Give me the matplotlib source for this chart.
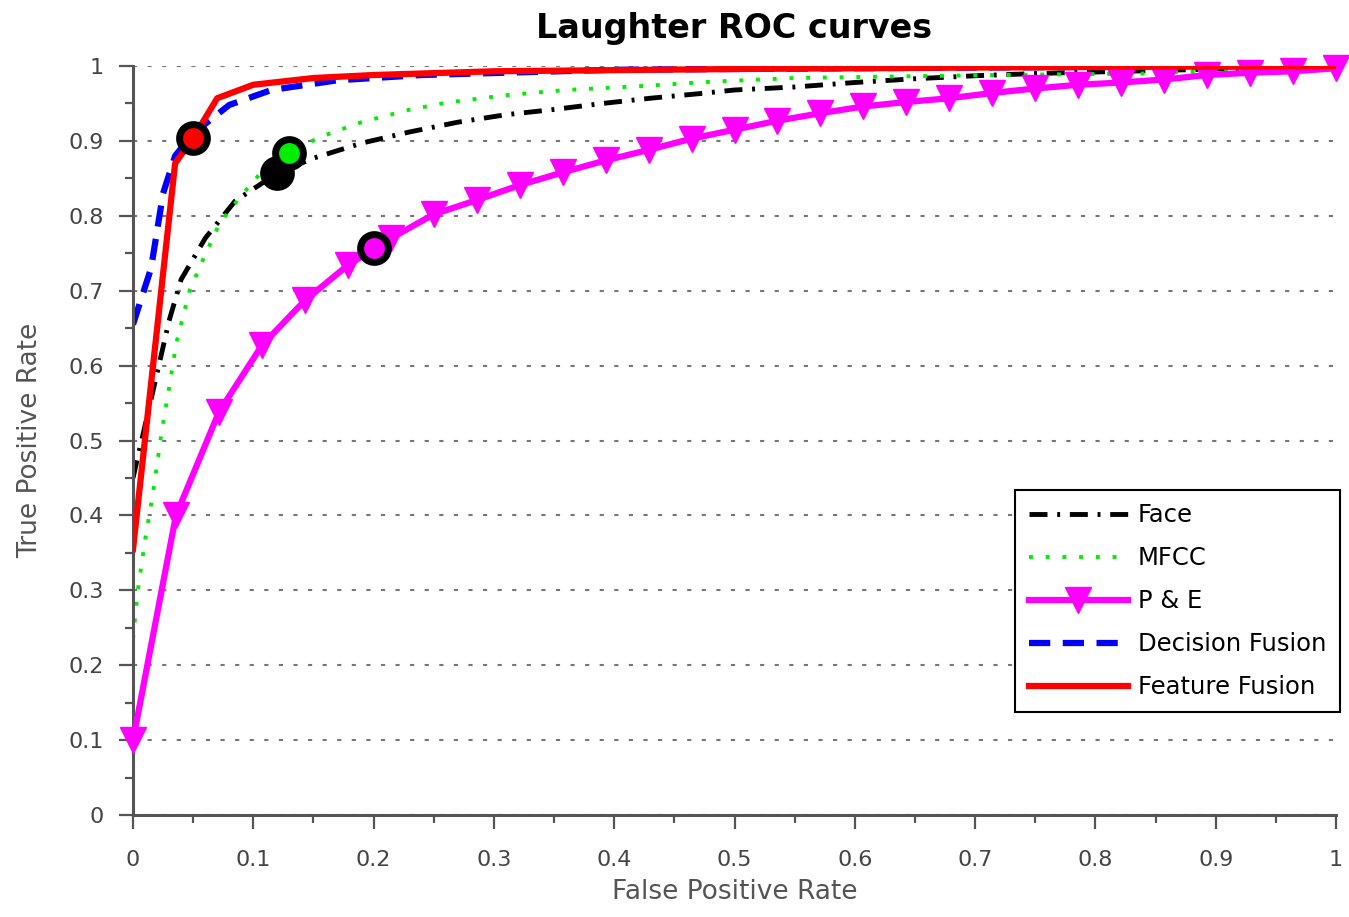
import matplotlib
matplotlib.use('Agg')
import matplotlib.pyplot as plt
from matplotlib.ticker import MultipleLocator

# ROC curves
face_fpr = [0, 0.02, 0.03, 0.04, 0.06, 0.085, 0.12, 0.15, 0.19, 0.23, 0.27, 0.31, 0.35, 0.39,
            0.43, 0.47, 0.5, 0.55, 0.6, 0.65, 0.7, 0.75, 0.8, 0.9, 1.0]
face_tpr = [0.45, 0.59, 0.66, 0.715, 0.77, 0.82, 0.857, 0.877, 0.897, 0.912, 0.925, 0.935, 0.942, 0.95,
            0.957, 0.963, 0.968, 0.972, 0.978, 0.983, 0.987, 0.99, 0.992, 0.996, 1.0]

mfcc_fpr = [0, 0.004, 0.01, 0.017, 0.024, 0.03, 0.036, 0.047, 0.058, 0.072, 0.089, 0.106, 0.13,
            0.155, 0.19, 0.228, 0.26, 0.31, 0.36, 0.42, 0.48, 0.55, 0.63, 0.72, 0.84, 1.0]
mfcc_tpr = [0.235, 0.30, 0.367, 0.434, 0.514, 0.57, 0.63, 0.70, 0.741, 0.79, 0.825, 0.857, 0.884,
            0.905, 0.925, 0.941, 0.951, 0.961, 0.968, 0.973, 0.979, 0.984, 0.986, 0.988, 0.99, 1.0]

pe_fpr = [i / 28 for i in range(29)]
pe_tpr = [0.10, 0.40, 0.538, 0.627, 0.687, 0.734, 0.77, 0.802, 0.821, 0.841, 0.858, 0.874, 0.888,
          0.903, 0.915, 0.927, 0.937, 0.946, 0.952, 0.957, 0.964, 0.97, 0.975, 0.978, 0.982,
          0.988, 0.991, 0.993, 0.997]

dec_fpr = [0, 0.015, 0.025, 0.035, 0.05, 0.08, 0.115, 0.17, 0.24, 0.4, 0.7, 1.0]
dec_tpr = [0.655, 0.73, 0.83, 0.88, 0.91, 0.948, 0.968, 0.981, 0.988, 0.995, 0.998, 1.0]

feat_fpr = [0, 0.035, 0.05, 0.07, 0.1, 0.15, 0.2, 0.3, 0.5, 0.7, 1.0]
feat_tpr = [0.355, 0.87, 0.904, 0.957, 0.975, 0.984, 0.988, 0.993, 0.996, 0.998, 1.0]

# operating points (fpr, tpr, colour)
op_points = [(0.12, 0.857, 'black'), (0.13, 0.884, '#00ee00'), (0.2, 0.757, 'magenta'),
             (0.05, 0.904, 'red')]

fig = plt.figure(figsize=(13.49, 9.17), dpi=100)
ax = fig.add_axes([0.0986, 0.1112, 0.8918, 0.8168])

ax.plot(face_fpr, face_tpr, color='black', lw=3.5, dashes=[3.7, 2.0, 0.6, 2.0], label='Face')
ax.plot(mfcc_fpr, mfcc_tpr, color='#00ee00', lw=2.8, dashes=[1.0, 3.3], label='MFCC')
ax.plot(pe_fpr, pe_tpr, color='magenta', lw=4.5, marker='v', markersize=19,
        markeredgecolor='magenta', clip_on=False, label='P & E', zorder=3)
ax.plot(dec_fpr, dec_tpr, color='blue', lw=4.5, dashes=[3.4, 2.0], label='Decision Fusion')
ax.plot(feat_fpr, feat_tpr, color='red', lw=4.5, label='Feature Fusion', zorder=4)

for x, y, c in op_points:
    ax.plot(x, y, marker='o', markersize=20, markerfacecolor=c, markeredgecolor='black',
            markeredgewidth=5, zorder=5)

ax.set_xlim(0, 1)
ax.set_ylim(0, 1)
ticks = [round(0.1 * i, 1) for i in range(11)]
labels = ['0'] + [str(t) for t in ticks[1:-1]] + ['1']
ax.set_xticks(ticks)
ax.set_xticklabels(labels)
ax.set_yticks(ticks)
ax.set_yticklabels(labels)
ax.xaxis.set_minor_locator(MultipleLocator(0.05))
ax.yaxis.set_minor_locator(MultipleLocator(0.05))

for s in ['top', 'right']:
    ax.spines[s].set_visible(False)
for s in ['left', 'bottom']:
    ax.spines[s].set_color('#555555')
    ax.spines[s].set_linewidth(2.2)
ax.tick_params(which='major', length=10, width=1.6, color='#555555', labelsize=16,
               labelcolor='#444444')
ax.tick_params(axis='x', which='major', pad=15)
ax.tick_params(axis='y', which='major', pad=11)
ax.tick_params(which='minor', length=6, width=1.6, color='#555555')

ax.yaxis.grid(True, which='major', color='#777777', linestyle=(0, (2, 5)), lw=1.5)
ax.set_axisbelow(True)

ax.set_xlabel('False Positive Rate', fontsize=19, color='#555555', labelpad=7)
ax.set_ylabel('True Positive Rate', fontsize=19, color='#555555', labelpad=18)
ax.set_title('Laughter ROC curves', fontsize=24, fontweight='bold', pad=20)

leg = ax.legend(loc='lower right', bbox_to_anchor=(1.003, 0.137), fontsize=17.5,
                handlelength=4.1, fancybox=False, framealpha=1, edgecolor='black',
                borderpad=0.55, labelspacing=0.78, handletextpad=0.4, borderaxespad=0)
leg.get_frame().set_linewidth(1.5)

fig.savefig('out.png', dpi=100)
